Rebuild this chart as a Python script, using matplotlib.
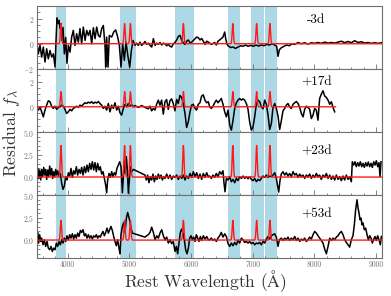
import numpy as np
import matplotlib
matplotlib.use('Agg')
import matplotlib.pyplot as plt
from matplotlib.ticker import MultipleLocator

plt.rcParams['font.family'] = 'serif'
plt.rcParams['font.serif'] = ['cmr10', 'DejaVu Serif']
plt.rcParams['mathtext.fontset'] = 'cm'
plt.rcParams['axes.formatter.use_mathtext'] = True

# ---------------- data ----------------
epochs = ['-3d', '+17d', '+23d', '+53d']

band_lo = [3805, 4850, 5740, 6600, 6980, 7195]
band_hi = [3965, 5100, 6050, 6800, 7180, 7400]

line_centers = [3889, 4922, 5016, 5876, 6678, 7065, 7281]
line_heights = [1.6, 1.2, 3.5, 2.2]
line_sigma = 10.0
model_end = [9100, 8345, 9100, 9100]

wave_m3 = [3495, 3522, 3549, 3576, 3603, 3630, 3657, 3684, 3711, 3739,
           3766, 3793, 3809, 3825, 3841, 3858, 3874, 3890, 3906, 3922,
           3944, 3966, 3987, 4009, 4036, 4063, 4090, 4117, 4144, 4171,
           4198, 4225, 4252, 4280, 4307, 4334, 4361, 4388, 4415, 4442,
           4469, 4496, 4523, 4550, 4577, 4604, 4615, 4631, 4653, 4674,
           4712, 4745, 4777, 4810, 4837, 4864, 4891, 4918, 4945, 4978,
           5005, 5032, 5059, 5091, 5118, 5145, 5172, 5199, 5226, 5253,
           5280, 5307, 5335, 5362, 5389, 5416, 5443, 5470, 5497, 5524,
           5551, 5578, 5605, 5632, 5659, 5686, 5713, 5740, 5767, 5794,
           5821, 5848, 5875, 5902, 5929, 5957, 5984, 6011, 6038, 6065,
           6092, 6119, 6146, 6173, 6200, 6227, 6254, 6281,
           6330, 6384, 6411, 6438, 6465, 6492, 6519, 6547, 6563, 6584,
           6611, 6644, 6682, 6720, 6763, 6806, 6844, 6882, 6925, 6968,
           7012, 7055, 7098, 7142, 7185, 7228, 7271, 7315, 7358, 7390,
           7412, 7434, 7466, 7509, 7553, 7596, 7639, 7683, 7737, 7791,
           7845, 7899, 7953, 8007, 8061, 8115, 8170, 8224, 8278, 8332,
           8386, 8440, 8494, 8548, 8602, 8656, 8711, 8765, 8819, 8873,
           8927, 8981, 9035, 9089]
flux_m3 = [0.26, -0.8, -0.13, -1.06, -0.26, -1.45, -0.4, -1.2, -0.53, -1.06,
           -0.8, -1.85, 0.26, 2.05, 1.6, 1.85, 1.2, 1.6, 0.26, 1.3,
           -0.8, 0.5, -1.55, -0.13, -0.66, 0.53, 1.06, -0.13, 0.8, 0.13,
           1.2, 0.0, 1.32, 0.26, 1.06, 0.66, 1.06, 0.0, 1.27, 0.4,
           1.32, 0.66, 0.53, 1.2, 1.45, -0.13, -1.85, 0.53, -1.85, 0.66,
           0.53, 0.93, 1.1, 0.53, -0.13, -1.85, 0.0, -1.32, 0.13, -1.06,
           -1.85, -0.53, 0.26, -0.13, 0.05, -0.13, 0.13, -0.13, 0.0, 0.18,
           -0.05, 0.05, -0.13, -0.26, 0.4, -0.13, 0.05, -0.05, 0.1, -0.1,
           0.05, 0.0, -0.16, -0.05, -0.2, -0.26, 0.0, 0.1, 0.3, 0.58,
           0.66, 0.3, 0.05, -0.05, 0.2, 0.3, 0.05, 0.13, 0.26, 0.4,
           0.53, 0.48, 0.3, 0.42, 0.2, -0.05, 0.2, 0.13,
           -0.05, 0.1, -0.1, 0.2, 0.3, 0.42, 0.53, 0.93, 0.4, -0.05,
           -0.2, -0.3, -0.26, -0.37, -0.26, -0.16, -0.2, -0.1, -0.2, -0.13,
           -0.2, -0.1, -0.18, -0.1, -0.16, -0.05, -0.1, 0.0, -0.1, -0.2,
           -1.0, -0.48, -0.32, -0.2, -0.1, -0.16, 0.0, -0.05, 0.1, 0.0,
           0.08, -0.03, 0.08, 0.03, 0.1, 0.03, 0.13, 0.05, 0.1, 0.05,
           0.13, 0.2, 0.08, 0.18, 0.08, 0.24, 0.1, 0.16, 0.05, 0.1,
           0.03, 0.08, 0.03, 0.08]

wave_p17 = [3495, 3522, 3549, 3576, 3603, 3630, 3657, 3684, 3711, 3738,
            3765, 3792, 3819, 3846, 3873, 3900, 3927, 3954, 3981, 4008,
            4036, 4063, 4090, 4117, 4144, 4171, 4198, 4225, 4252, 4279,
            4306, 4333, 4360, 4387, 4414, 4441, 4468, 4495, 4522, 4550,
            4577, 4604, 4631, 4658, 4685, 4712, 4739, 4766, 4793, 4820,
            4847, 4874, 4901, 4928, 4955, 4982, 5009, 5036, 5063, 5090,
            5145, 5199, 5253, 5307,
            5334, 5361, 5388, 5415, 5442, 5469, 5496, 5523, 5550, 5577,
            5604, 5631, 5658, 5685, 5712, 5739, 5766, 5793, 5820, 5847,
            5875, 5902, 5929, 5956, 5983, 6010, 6037, 6064, 6091, 6118,
            6145, 6172, 6199, 6226, 6253, 6281,
            6303, 6330, 6357, 6384, 6411, 6438, 6465, 6492, 6519, 6547,
            6574, 6601, 6628, 6655, 6682, 6709, 6736, 6763, 6790, 6817,
            6844, 6871, 6898, 6925, 6952, 6979, 7006, 7033, 7060, 7088,
            7115, 7142, 7169, 7196, 7223, 7250, 7277, 7304, 7331, 7358,
            7385, 7412, 7439, 7466, 7493, 7520, 7547, 7574, 7601, 7628,
            7656, 7683, 7710, 7737, 7764, 7791, 7818, 7845, 7872, 7899,
            7926, 7953, 7980, 8007, 8034, 8061, 8088, 8115, 8142, 8170,
            8197, 8224, 8251, 8278, 8305, 8332]
flux_p17 = [-0.13, -0.26, -0.05, -0.4, -0.8, -0.26, 0.13, 0.48, 0.4, 0.05,
            -0.13, 0.05, -0.2, -0.05, 0.0, 0.13, 0.05, -0.2, -0.53, -0.4,
            -0.2, -0.32, -0.13, -0.05, 0.05, -0.05, 0.13, 0.05, 0.2, 0.32,
            0.26, 0.37, 0.3, 0.4, 0.26, 0.37, 0.3, 0.42, 0.26, 0.13,
            -0.13, 0.05, -0.26, 0.26, -0.4, 0.13, -0.13, 0.32, -0.26, 0.05,
            -0.48, -0.66, -0.13, 0.2, 0.0, 0.26, 0.05, 0.18, 0.0, 0.1,
            -0.05, 0.1, -0.05, -0.16,
            0.05, -0.32, -0.13, -0.26, 0.2, 0.53, 0.13, 0.53, -0.58, 0.4,
            0.58, -0.2, 0.48, 0.63, 0.26, -0.32, 0.58, 0.26, 0.9, 0.74,
            0.26, -0.53, -1.64, -1.2, -0.4, 0.13, 0.2, -0.13, -0.26, 0.2,
            0.32, 0.85, 0.95, 0.53, 0.32, 0.4,
            0.0, -0.13, 0.05, 0.32, 0.53, 0.32, 0.48, 0.66, 0.2, -0.4,
            -0.8, -0.26, -1.45, -1.85, -1.06, -0.13, 0.32, 0.53, 0.66, 0.53,
            0.63, 0.53, 0.26, -0.2, -1.2, -1.85, -1.6, -0.8, 0.2, 0.53,
            0.4, 0.0, -0.16, 0.53, 0.2, -0.66, -1.8, -1.32, -0.05, 0.26,
            -0.13, -0.74, -1.8, -1.1, -0.32, -0.13, 0.13, 0.26, 0.0, -0.13,
            0.2, 0.32, 0.42, 0.26, -0.05, -0.53, -0.8, -0.2, 0.05, -0.05,
            -0.2, -0.93, -0.66, -0.13, -0.26, -1.06, 0.66, 1.0, 1.27, 0.85,
            0.74, 0.53, 0.2, 0.4, -0.05, -0.4]

wave_p23 = [3495, 3511, 3527, 3543, 3560, 3576, 3592, 3609, 3625, 3641,
            3657, 3674, 3690, 3706, 3722, 3739, 3755, 3771, 3787, 3804,
            3820, 3836, 3858, 3879, 3901, 3922, 3944, 3966, 3987, 4009,
            4031, 4052, 4074, 4095, 4117, 4139, 4160, 4182, 4204, 4225,
            4247, 4269, 4290, 4312, 4334, 4355, 4377, 4399, 4420, 4442,
            4463, 4485, 4507, 4528, 4550, 4572, 4593, 4615, 4631, 4647,
            4669, 4690, 4712, 4734, 4755, 4777, 4798, 4820, 4842, 4864,
            4886, 4902, 4918, 4934, 4950, 4967, 4983, 4999, 5015, 5037,
            5064, 5253, 5275, 5296, 5318, 5340, 5361, 5383, 5405, 5427,
            5448, 5470, 5491, 5513, 5535, 5556, 5578, 5605, 5632, 5659,
            5686, 5713, 5740, 5767, 5794, 5821, 5848, 5875, 5902, 5929,
            5957, 5984, 6011, 6038, 6065, 6092, 6119, 6146, 6173, 6200,
            6227, 6254, 6281, 6303, 6330, 6357, 6384, 6411, 6438, 6465,
            6492, 6519, 6536, 6552, 6574, 6601, 6628, 6655, 6682, 6709,
            6736, 6763, 6790, 6817, 6844, 6871, 6898, 6925, 6952, 6979,
            7006, 7033, 7061, 7088, 7115, 7142, 7169, 7196, 7223, 7250,
            7277, 7304, 7331, 7358, 7385, 7407, 7423, 7445, 7466, 7493,
            7520, 7547, 7574, 7601, 7629, 7656, 7683, 7710, 7737, 7764,
            7791, 7818, 7845, 7872, 7899, 7926, 7953, 7980, 8007, 8034,
            8061, 8088, 8115, 8142, 8170, 8197, 8224, 8251, 8278, 8305,
            8332, 8359, 8386, 8413, 8440, 8467, 8494, 8521, 8548, 8575,
            8602, 8618, 8640, 8662, 8683, 8705, 8727, 8748, 8770, 8792,
            8813, 8835, 8857, 8878, 8900, 8922, 8943, 8965, 8987, 9008,
            9030, 9051, 9068, 9084]
flux_p23 = [0.4, 0.96, -0.15, 0.78, -0.33, 0.85, 0.04, 1.07, 0.22, 0.85,
            -0.26, 0.78, 0.04, 1.22, 0.22, 0.96, -0.15, 0.6, 0.04, 0.85,
            0.22, 0.7, 0.04, 0.4, -0.7, -1.37, -1.0, 0.04, -0.33, 0.48,
            0.11, 0.96, -0.04, 0.7, 0.33, 1.15, 0.22, 0.85, 0.4, 1.07,
            0.22, 1.15, 0.48, 1.33, 0.6, 1.52, 0.85, 1.7, 0.78, 1.6,
            0.6, 1.52, 0.78, 1.15, 0.33, 0.6, -0.15, -0.9, -1.74, -0.33,
            0.4, -0.04, 0.6, 0.04, 0.48, 0.22, 0.96, 1.33, 1.7, 1.15,
            -1.74, 0.04, 1.89, 0.4, 2.26, 0.78, -1.8, -0.33, 1.15, 0.6,
            0.85, 0.22, -0.33, 0.22, -0.63, 0.04, -0.33, 0.33, -0.52, 0.11,
            -0.26, 0.33, -0.15, 0.22, -0.33, 0.04, -0.15, 0.33, -0.15, 0.22,
            -0.26, 0.11, -0.04, 0.22, -0.26, 0.11, -0.15, 0.22, -0.33, 0.11,
            -0.15, 0.4, -0.04, 0.6, 0.04, 0.48, -0.15, 0.33, -0.26, 0.4,
            -0.04, 0.48, 0.04, 0.11, -0.15, 0.22, -0.04, 0.4, 0.04, 0.6,
            0.33, 0.7, -0.7, -1.63, -0.15, -0.33, 0.04, -0.52, -0.26, -0.63,
            -0.15, -0.4, 0.04, -0.15, 0.11, -0.15, 0.04, -0.19, 0.04, -0.26,
            -0.4, -0.15, -0.52, -0.26, -0.4, -0.15, 0.11, -0.04, 0.22, -0.04,
            0.11, 0.04, 0.22, 0.48, -0.15, -1.07, -1.67, -0.33, 0.33, 0.6,
            0.22, 0.48, 0.11, 0.4, 0.04, 0.6, 0.22, 0.4, -0.04, 0.33,
            0.04, 0.22, -0.15, 0.22, 0.04, 0.33, -0.15, 0.22, -0.04, 0.4,
            0.04, 0.22, -0.26, 0.22, -0.04, 0.4, -0.15, 0.22, -0.26, 0.11,
            -0.33, 0.22, -0.26, 0.04, -0.4, 0.11, -0.33, 0.22, -0.26, 0.04,
            -0.52, 1.7, 1.33, 1.7, 1.15, 1.6, 1.22, 1.7, 1.15, 1.52,
            1.07, 1.6, 1.22, 1.67, 1.15, 1.52, 1.07, 1.7, 1.33, 1.81,
            1.15, 1.6, 0.04, 1.7]

wave_p53 = [3495, 3511, 3527, 3543, 3560, 3576, 3598, 3619, 3641, 3663,
            3684, 3706, 3728, 3749, 3771, 3793, 3814, 3836, 3858, 3879,
            3901, 3922, 3944, 3966, 3987, 4009, 4031, 4052, 4074, 4095,
            4117, 4139, 4160, 4182, 4204, 4225, 4247, 4269, 4290, 4312,
            4334, 4355, 4377, 4399, 4420, 4442, 4463, 4485, 4507, 4528,
            4550, 4572, 4593, 4615, 4637, 4658, 4680, 4701, 4723, 4745,
            4766, 4788, 4810, 4831, 4848, 4864, 4886, 4907, 4929, 4951,
            4972, 4988, 5004, 5026, 5048, 5253, 5280, 5307, 5335, 5362,
            5389, 5416, 5443, 5470, 5497, 5524, 5551, 5578, 5605, 5632,
            5659, 5686, 5713, 5740, 5762, 5783, 5805, 5827, 5848, 5870,
            5891, 5913, 5935, 5957, 5978, 6000, 6022, 6043, 6065, 6087,
            6108, 6130, 6152, 6173, 6200, 6227, 6254, 6281,
            6303, 6330, 6357, 6384, 6411, 6438, 6465, 6492, 6519, 6547,
            6574, 6601, 6628, 6655, 6682, 6709, 6736, 6763, 6790, 6817,
            6844, 6871, 6898, 6925, 6952, 6979, 7006, 7033, 7061, 7088,
            7115, 7142, 7169, 7196, 7223, 7250, 7277, 7304, 7331, 7358,
            7385, 7412, 7434, 7466, 7493, 7520, 7547, 7574, 7601, 7629,
            7656, 7683, 7710, 7737, 7764, 7791, 7818, 7845, 7872, 7899,
            7926, 7953, 7980, 8007, 8034, 8061, 8088, 8115, 8142, 8170,
            8197, 8224, 8251, 8278, 8305, 8332, 8359, 8386, 8413, 8440,
            8467, 8494, 8521, 8548, 8575, 8602, 8629, 8651, 8672, 8694,
            8711, 8727, 8743, 8759, 8776, 8792, 8813, 8835, 8857, 8878,
            8900, 8922, 8943, 8965, 8987, 9008, 9030, 9051, 9073, 9089]
flux_p53 = [0.22, 0.85, -0.33, 0.6, -0.15, 0.22, -0.52, 0.04, -0.7, -0.15,
            -0.89, -1.07, -0.7, -1.26, -0.89, -1.07, -0.33, -0.7, -0.15, -0.52,
            0.04, -0.33, 0.22, -0.15, 0.48, 0.04, 0.6, 0.22, 0.7, 0.11,
            0.6, 0.22, 0.78, 0.4, 1.07, 0.85, 1.15, 0.48, 0.7, 0.22,
            0.6, 0.22, 0.48, 0.11, 0.48, 0.33, 0.6, 0.22, 0.48, 0.33,
            0.7, 0.96, 0.48, 0.85, 1.33, 0.78, 1.15, 1.52, 1.07, 0.4,
            -0.15, -0.63, 0.04, -0.89, -1.52, 0.6, 1.52, 1.96, 0.85, 2.44,
            3.07, 2.63, 2.19, 1.33, 0.78, 0.33, 0.48, 0.6, 0.85, 1.44,
            0.85, 0.04, 0.48, 0.22, 0.78, 1.15, 0.48, 0.04, 0.33, -0.33,
            0.04, -0.4, -0.15, -1.26, -0.7, -1.52, -0.33, 0.85, 1.22, 0.78,
            0.04, -1.07, -1.52, -0.89, 0.22, 0.48, 0.04, 0.33, -0.15, 0.6,
            0.22, -0.15, 0.4, -0.04, 0.48, 0.11, 0.4, 0.04,
            0.04, 0.22, -0.04, 0.11, -0.15, 0.22, 0.48, 0.85, 0.33, 0.7,
            0.4, -0.4, -0.7, -0.33, -0.63, -0.26, -0.52, -0.04, -0.33, 0.22,
            0.04, -0.26, -0.15, -0.33, -0.15, -0.4, -0.26, -0.52, -0.33, -0.4,
            -0.26, -0.52, -0.15, -0.33, 0.11, 0.4, 0.11, 0.48, 0.6, 0.7,
            0.33, -0.7, 0.04, 0.22, -0.04, 0.22, 0.04, 0.33, -0.04, 0.22,
            0.04, 0.4, -0.04, 0.22, -0.15, 0.11, -0.04, 0.22, -0.15, 0.04,
            0.33, 0.11, 0.6, 0.96, 0.78, 0.48, 0.22, -0.04, -0.33, -1.0,
            -1.52, -0.7, 0.22, -0.04, 0.22, 0.04, 0.33, 0.48, 0.78, 0.96,
            0.6, 0.04, -0.26, -0.52, -0.78, 0.04, 0.48, 1.7, 3.37, 4.48,
            3.56, 3.0, 2.26, 2.44, 1.7, 1.89, 1.15, 1.33, 0.6, 0.04,
            0.48, 0.22, -0.33, 0.11, 0.4, -0.04, 0.48, 0.04, -0.52, 0.4]

waves = [wave_m3, wave_p17, wave_p23, wave_p53]
fluxes = [flux_m3, flux_p17, flux_p23, flux_p53]

ylims = [(-2, 3), (-2, 3), (-2, 5), (-2, 5)]
yticks = [[-2, 0, 2], [0, 2], [0, 2.5, 5], [0, 2.5, 5]]
ylabels = [[r'$-2$', r'$0$', r'$2$'], [r'$0$', r'$2$'],
           [r'$0.0$', r'$2.5$', r'$5.0$'], [r'$0.0$', r'$2.5$', r'$5.0$']]
label_y = [0.77, 0.79, 0.69, 0.69]
xticks = [4000, 5000, 6000, 7000, 8000, 9000]

# ---------------- figure ----------------
fig = plt.figure(figsize=(3.91, 2.96), dpi=100)
gs = fig.add_gridspec(4, 1, left=0.0946, right=0.977, top=0.98,
                      bottom=0.128, hspace=0)
gray = '#707070'
axes = []
for i in range(4):
    ax = fig.add_subplot(gs[i], sharex=axes[0] if axes else None)
    axes.append(ax)
    for lo, hi in zip(band_lo, band_hi):
        ax.axvspan(lo, hi, color='#add8e6', lw=0, zorder=0)
    ax.plot(waves[i], fluxes[i], color='black', lw=1.1, zorder=2)
    mw = np.linspace(3500, model_end[i], 4000)
    model = np.zeros_like(mw)
    for c in line_centers:
        model += line_heights[i] * np.exp(-0.5 * ((mw - c) / line_sigma) ** 2)
    ax.plot(mw, model, color='#ff1a1a', lw=1.0, zorder=3)
    ax.set_xlim(3500, 9100)
    ax.set_ylim(*ylims[i])
    ax.set_yticks(yticks[i])
    ax.set_yticklabels(ylabels[i])
    ax.yaxis.set_minor_locator(MultipleLocator(0.5))
    ax.set_xticks(xticks)
    ax.xaxis.set_minor_locator(MultipleLocator(200))
    ax.tick_params(which='both', direction='in', color=gray, labelcolor=gray,
                   labelsize=5.5, width=0.6, pad=2)
    ax.tick_params(which='major', length=3.5)
    ax.tick_params(which='minor', length=1.8)
    for sp in ax.spines.values():
        sp.set_color(gray)
        sp.set_linewidth(0.8)
    ax.text(0.81, label_y[i], epochs[i], transform=ax.transAxes,
            ha='center', va='center', fontsize=9.5, color='black')
    if i < 3:
        plt.setp(ax.get_xticklabels(), visible=False)

axes[-1].set_xticklabels([str(x) for x in xticks])

fig.text(0.525, 0.05, r'Rest Wavelength ($\mathrm{\AA}$)', ha='center',
         va='center', fontsize=12.5, color='#333333')
fig.text(0.03, 0.55, r'Residual $f_\lambda$', ha='center', va='center',
         rotation=90, fontsize=12.5, color='#333333')

fig.savefig('out.png', dpi=100)
